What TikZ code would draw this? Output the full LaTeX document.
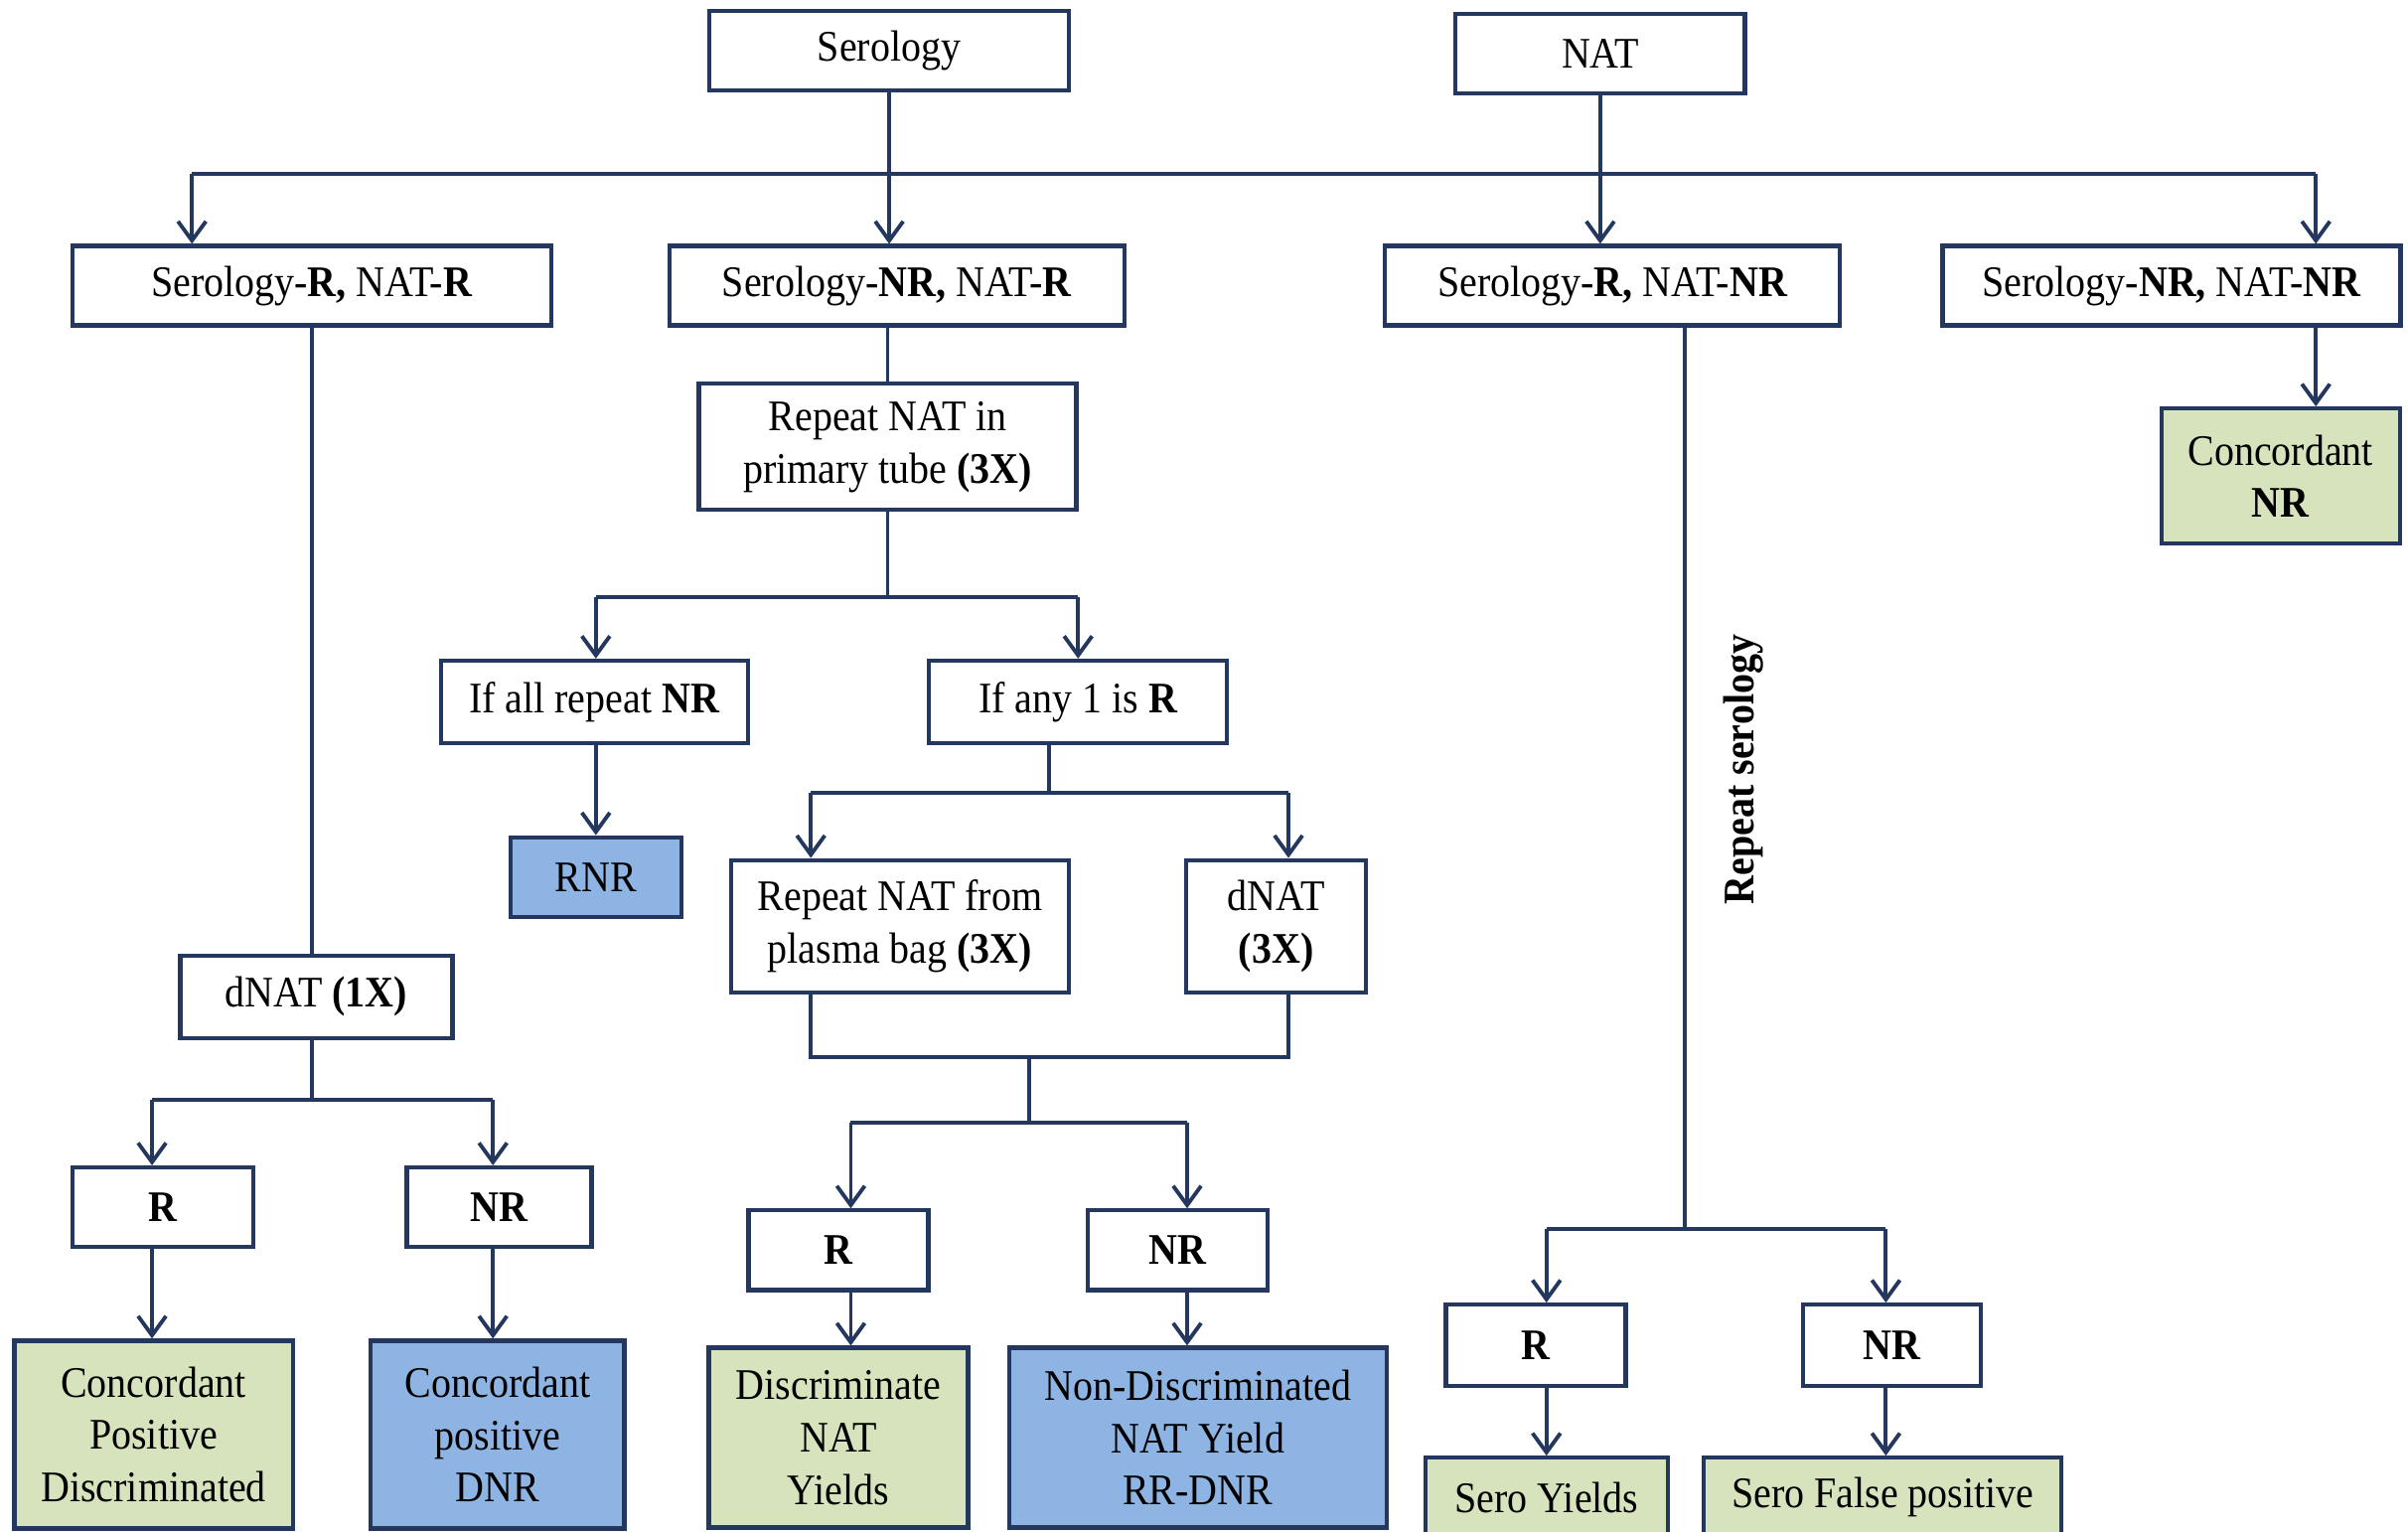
\documentclass[tikz,border=0pt]{standalone}
\usepackage{fontspec}
\setmainfont[FakeStretch=0.91]{Liberation Serif}
\usetikzlibrary{arrows.meta}
\definecolor{linenavy}{RGB}{35,55,95}
\definecolor{boxgreen}{RGB}{215,227,188}
\definecolor{boxblue}{RGB}{142,180,227}

\begin{document}
\begin{tikzpicture}[x=0.01546cm, y=-0.01546cm,
        font=\fontsize{12.5}{15}\selectfont,
        >={Straight Barb[length=5.5pt,width=8pt]},
        link/.style={draw=linenavy, line width=1.1pt},
        box/.style={draw=linenavy, line width=1.2pt, fill=white, align=center,
            minimum height=0.80cm, inner sep=2pt},
        greenbox/.style={box, fill=boxgreen},
        bluebox/.style={box, fill=boxblue}]
    \clip (0,0) rectangle (1568,997);

    % sources
    \node[box, minimum width=3.62cm] (serology) at (579,33) {Serology};
    \node[box, minimum width=2.91cm] (nat) at (1042,35) {NAT};

    % four outcomes
    \node[box, minimum width=4.82cm] (sernatr) at (203,186) {Serology-\textbf{R,} NAT-\textbf{R}};
    \node[box, minimum width=4.58cm] (snrnatr) at (584,186) {Serology-\textbf{NR,} NAT-\textbf{R}};
    \node[box, minimum width=4.58cm] (srnatnr) at (1050,186) {Serology-\textbf{R,} NAT-\textbf{NR}};
    \node[box, minimum width=4.61cm] (snrnatnr) at (1414,186) {Serology-\textbf{NR,} NAT-\textbf{NR}};

    % serology NR, NAT R branch
    \node[box, minimum width=3.80cm, minimum height=1.27cm] (reptube) at (578,291) {Repeat NAT in\\primary tube \textbf{(3X)}};
    \node[box, minimum width=3.09cm, minimum height=0.83cm] (allnr) at (387,457) {If all repeat \textbf{NR}};
    \node[box, minimum width=3.00cm, minimum height=0.83cm] (anyr) at (702,457) {If any 1 is \textbf{R}};
    \node[bluebox, minimum width=1.72cm] (rnr) at (388,571) {RNR};
    \node[box, minimum width=3.40cm, minimum height=1.33cm] (repbag) at (586,603) {Repeat NAT from\\plasma bag \textbf{(3X)}};
    \node[box, minimum width=1.81cm, minimum height=1.33cm] (dnatthree) at (831,603) {dNAT\\\textbf{(3X)}};
    \node[box, minimum width=1.81cm] (rmid) at (546,814) {\textbf{R}};
    \node[box, minimum width=1.81cm] (nrmid) at (767,814) {\textbf{NR}};
    \node[greenbox, minimum width=2.61cm, minimum height=1.81cm] (discyield) at (546,936) {Discriminate\\NAT\\Yields};
    \node[bluebox, minimum width=3.80cm, minimum height=1.81cm] (nondisc) at (780,936) {Non-Discriminated\\NAT Yield\\RR-DNR};

    % serology R, NAT R branch
    \node[box, minimum width=2.74cm, minimum height=0.83cm] (dnatone) at (206,649) {dNAT \textbf{(1X)}};
    \node[box, minimum width=1.82cm] (rleft) at (106,786) {\textbf{R}};
    \node[box, minimum width=1.86cm] (nrleft) at (325,786) {\textbf{NR}};
    \node[greenbox, minimum width=2.80cm, minimum height=1.89cm] (concposdisc) at (100,934) {Concordant\\Positive\\Discriminated};
    \node[bluebox, minimum width=2.55cm, minimum height=1.89cm] (concposdnr) at (324,934) {Concordant\\positive\\DNR};

    % serology R, NAT NR branch
    \node[rotate=90, font=\fontsize{12.5}{15}\selectfont\bfseries] (reposero) at (1135,501) {Repeat serology};
    \node[box, minimum width=1.81cm, minimum height=0.82cm] (rright) at (1000,876) {\textbf{R}};
    \node[box, minimum width=1.79cm, minimum height=0.82cm] (nrright) at (1232,876) {\textbf{NR}};
    \node[greenbox, minimum width=2.44cm] (seroyield) at (1007,975) {Sero Yields};
    \node[greenbox, minimum width=3.60cm] (serofalse) at (1226,975) {Sero False positive};

    % serology NR, NAT NR branch
    \node[greenbox, minimum width=2.40cm, minimum height=1.36cm] (concnr) at (1485,310) {Concordant\\\textbf{NR}};

    % junctions
    \coordinate (ja) at (125,113);
    \coordinate (jb) at (1508,113);
    \coordinate (jc) at (578,389);
    \coordinate (jcl) at (388,389);
    \coordinate (jcr) at (702,389);
    \coordinate (jd) at (683,516);
    \coordinate (jdl) at (528,516);
    \coordinate (jdr) at (839,516);
    \coordinate (jel) at (528,688);
    \coordinate (jer) at (839,688);
    \coordinate (je) at (670,688);
    \coordinate (jf) at (670,731);
    \coordinate (jfl) at (554,731);
    \coordinate (jfr) at (773,731);
    \coordinate (jg) at (203,716);
    \coordinate (jgl) at (99,716);
    \coordinate (jgr) at (321,716);
    \coordinate (jh) at (1097,800);
    \coordinate (jhl) at (1007,800);
    \coordinate (jhr) at (1228,800);

    % top level
    \draw[link] (ja) -- (jb);
    \draw[link,->] (serology.south) -- (serology.south |- snrnatr.north);
    \draw[link,->] (nat.south) -- (nat.south |- srnatnr.north);
    \draw[link,->] (ja) -- (ja |- sernatr.north);
    \draw[link,->] (jb) -- (jb |- snrnatnr.north);
    \draw[link,->] (snrnatnr.south -| jb) -- (jb |- concnr.north);

    % middle branch
    \draw[link] (reptube.north |- snrnatr.south) -- (reptube.north);
    \draw[link] (reptube.south) -- (jc);
    \draw[link] (jcl) -- (jcr);
    \draw[link,->] (jcl) -- (jcl |- allnr.north);
    \draw[link,->] (jcr) -- (jcr |- anyr.north);
    \draw[link,->] (allnr.south -| jcl) -- (jcl |- rnr.north);
    \draw[link] (anyr.south -| jd) -- (jd);
    \draw[link] (jdl) -- (jdr);
    \draw[link,->] (jdl) -- (jdl |- repbag.north);
    \draw[link,->] (jdr) -- (jdr |- dnatthree.north);
    \draw[link] (repbag.south -| jel) -- (jel) -- (jer) -- (dnatthree.south -| jer);
    \draw[link] (je) -- (jf);
    \draw[link] (jfl) -- (jfr);
    \draw[link,->] (jfl) -- (jfl |- rmid.north);
    \draw[link,->] (jfr) -- (jfr |- nrmid.north);
    \draw[link,->] (rmid.south -| jfl) -- (jfl |- discyield.north);
    \draw[link,->] (nrmid.south -| jfr) -- (jfr |- nondisc.north);

    % left branch
    \draw[link] (sernatr.south) -- (sernatr.south |- dnatone.north);
    \draw[link] (dnatone.south -| jg) -- (jg);
    \draw[link] (jgl) -- (jgr);
    \draw[link,->] (jgl) -- (jgl |- rleft.north);
    \draw[link,->] (jgr) -- (jgr |- nrleft.north);
    \draw[link,->] (rleft.south -| jgl) -- (jgl |- concposdisc.north);
    \draw[link,->] (nrleft.south -| jgr) -- (jgr |- concposdnr.north);

    % right branch
    \draw[link] (srnatnr.south -| jh) -- (jh);
    \draw[link] (jhl) -- (jhr);
    \draw[link,->] (jhl) -- (jhl |- rright.north);
    \draw[link,->] (jhr) -- (jhr |- nrright.north);
    \draw[link,->] (rright.south -| jhl) -- (jhl |- seroyield.north);
    \draw[link,->] (nrright.south -| jhr) -- (jhr |- serofalse.north);
\end{tikzpicture}
\end{document}
